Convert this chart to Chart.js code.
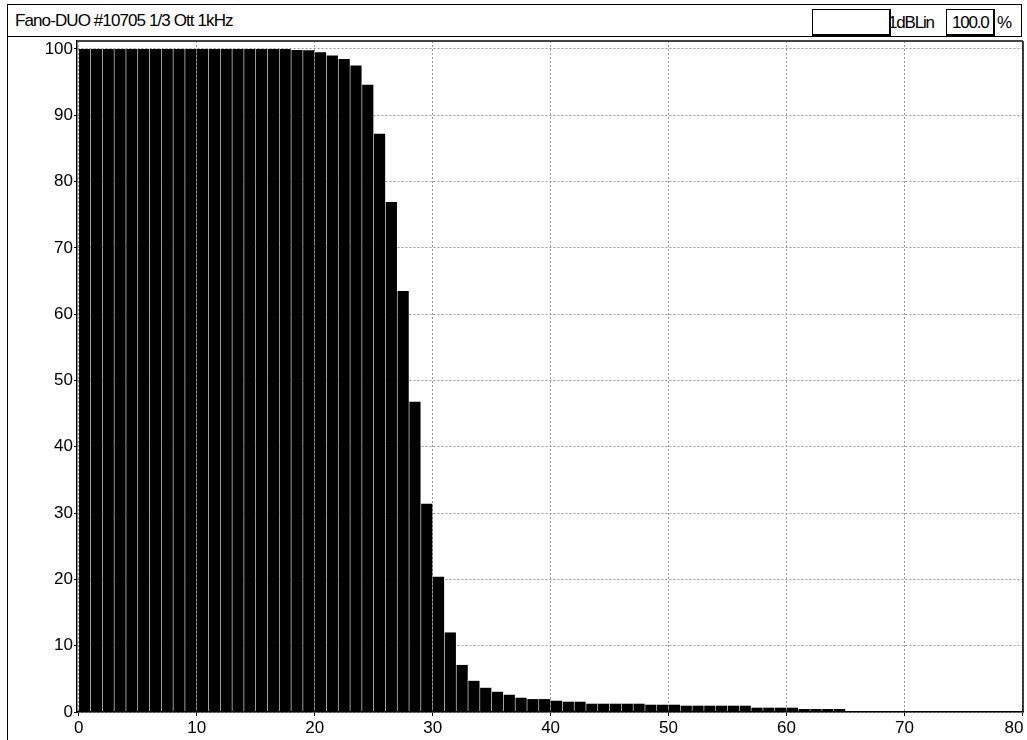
<!DOCTYPE html>
<html>
<head>
<meta charset="utf-8">
<script src="https://cdn.jsdelivr.net/npm/chart.js@4.4.0/dist/chart.umd.min.js"></script>
<style>
  html, body { margin: 0; padding: 0; background: #fff; }
  body { width: 1027px; height: 740px; position: relative; overflow: hidden;
         font-family: "Liberation Sans", Arial, sans-serif; }
  #frame { position: absolute; left: 7px; top: 4px; width: 1030px; height: 760px;
           border-left: 1px solid #000; }
  #header { position: absolute; left: 7px; top: 4px; width: 1013px; height: 31px;
            border: 1px solid #000; }
  .txt { position: absolute; font-size: 17px; color: #000; white-space: nowrap; line-height: 20px; }
  #title { left: 7px; top: 6px; letter-spacing: -0.9px; }
  .box { position: absolute; top: 4px; height: 24px; border: 1px solid #000;
         border-right-width: 2px; border-bottom-width: 2px; }
  #box1 { left: 804px; width: 76px; }
  #box2 { left: 938px; width: 46px; }
  #res { left: 880px; top: 8px; letter-spacing: -1.2px; }
  #scale { left: 944px; top: 8px; letter-spacing: -1.2px; }
  #pct { left: 989px; top: 8px; }
  #wrap { position: absolute; left: 0; top: 37px; width: 1027px; height: 703px; }
</style>
</head>
<body>
<div id="frame"></div>
<div id="header">
  <span class="txt" id="title">Fano-DUO #10705 1/3 Ott 1kHz</span>
  <div class="box" id="box1"></div>
  <span class="txt" id="res">1dBLin</span>
  <div class="box" id="box2"></div>
  <span class="txt" id="scale">100.0</span>
  <span class="txt" id="pct">%</span>
</div>
<div id="wrap"><canvas id="chart" width="1027" height="703"></canvas></div>
<script>
// left edge of every 1-unit bin
const binStart = [0, 1, 2, 3, 4, 5, 6, 7, 8, 9, 10, 11, 12, 13, 14, 15, 16, 17, 18, 19,
  20, 21, 22, 23, 24, 25, 26, 27, 28, 29, 30, 31, 32, 33, 34, 35, 36, 37, 38, 39,
  40, 41, 42, 43, 44, 45, 46, 47, 48, 49, 50, 51, 52, 53, 54, 55, 56, 57, 58, 59,
  60, 61, 62, 63, 64, 65];
// percentage per bin
const percent = [100, 100, 100, 100, 100, 100, 100, 100, 100, 100, 100, 100, 100, 100, 100, 100, 100, 100, 99.85, 99.8,
  99.5, 99.0, 98.5, 97.5, 94.6, 87.2, 76.9, 63.5, 46.8, 31.4, 20.4, 12.0, 7.1, 4.7, 3.65, 3.05, 2.6, 2.15, 1.95, 1.95,
  1.7, 1.55, 1.55, 1.25, 1.25, 1.25, 1.25, 1.25, 1.1, 1.1, 1.1, 0.95, 0.95, 0.95, 0.95, 0.95, 0.95, 0.65, 0.65, 0.65,
  0.65, 0.45, 0.45, 0.45, 0.45, 0.15];

const xTicks = [0, 10, 20, 30, 40, 50, 60, 70, 80];
const yTicks = [0, 10, 20, 30, 40, 50, 60, 70, 80, 90, 100];

const tickFont = { family: "'Liberation Sans', Arial, sans-serif", size: 17 };

const framePlugin = {
  id: 'frame',
  afterDraw(chart) {
    const { ctx, chartArea: a } = chart;
    ctx.save();
    ctx.strokeStyle = '#000';
    ctx.lineWidth = 1.5;
    ctx.beginPath();
    ctx.moveTo(a.right, a.top);
    ctx.lineTo(a.right, a.bottom);
    ctx.stroke();
    ctx.strokeStyle = '#444';
    ctx.lineWidth = 2;
    ctx.beginPath();
    ctx.moveTo(a.left, a.top);
    ctx.lineTo(a.right, a.top);
    ctx.stroke();
    ctx.restore();
  }
};

new Chart(document.getElementById('chart'), {
  type: 'bar',
  data: {
    datasets: [{
      data: binStart.map((b, i) => ({ x: b + 0.5, y: percent[i] })),
      backgroundColor: '#000',
      borderWidth: 0,
      barPercentage: 0.95,
      categoryPercentage: 1
    }]
  },
  plugins: [framePlugin],
  options: {
    responsive: false,
    devicePixelRatio: 1,
    animation: false,
    layout: { padding: { left: 0, right: 4, top: 4, bottom: 0 } },
    plugins: { legend: { display: false }, tooltip: { enabled: false } },
    scales: {
      x: {
        type: 'linear',
        min: -0.15,
        max: 80.05,
        offset: false,
        afterFit: s => { s.height = 28; s.paddingLeft = 0; s.paddingRight = 0; },
        afterBuildTicks: s => { s.ticks = xTicks.map(v => ({ value: v })); },
        ticks: {
          color: '#000', font: tickFont, padding: 2, maxRotation: 0, includeBounds: false,
          // last label sits left of its tick so it stays inside the window
          callback: v => (v === 80 ? '80\u2002\u2002' : String(v))
        },
        grid: { offset: false, color: '#999', tickColor: '#000', tickLength: 4 },
        border: { color: '#000', width: 1.5, dash: [2, 2] }
      },
      y: {
        min: 0,
        max: 101.2,
        afterFit: s => { s.width = 77; s.paddingTop = 0; s.paddingBottom = 0; },
        afterBuildTicks: s => { s.ticks = yTicks.map(v => ({ value: v })); },
        ticks: { color: '#000', font: tickFont, padding: 1, includeBounds: false },
        grid: { color: '#999', tickColor: '#000', tickLength: 3 },
        border: { color: '#000', width: 1.5, dash: [2, 2] }
      }
    }
  }
});
</script>
</body>
</html>
